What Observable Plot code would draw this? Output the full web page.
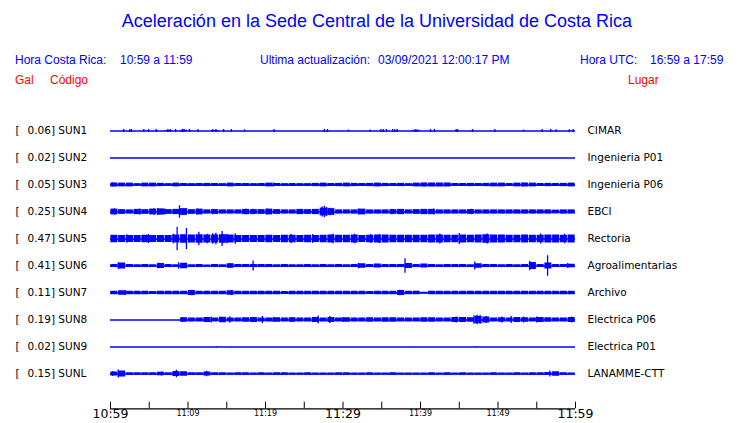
<!DOCTYPE html>
<html>
<head>
<meta charset="utf-8">
<script src="https://cdn.jsdelivr.net/npm/d3@7"></script>
<script src="https://cdn.jsdelivr.net/npm/@observablehq/plot@0.6"></script>
<style>
  html, body { margin: 0; padding: 0; background: #fff; }
  #wrap { width: 740px; height: 423px; position: relative; overflow: hidden; }
  #head { position: relative; width: 740px; height: 100px; font-family: "Liberation Sans", Arial, sans-serif; }
  #head div { position: absolute; white-space: pre; }
  .blue { color: #0000ff; }
  .red { color: #ff0000; }
  .h { font-size: 12px; line-height: 14px; }
  svg { display: block; }
</style>
</head>
<body>
<div id="wrap">
  <div id="head"></div>
  <div id="chart"></div>
  <div id="axis"></div>
</div>
<script>
// ---------- text ----------
const titleText = "Aceleración en la Sede Central de la Universidad de Costa Rica";
const headerLeft = ["Hora Costa Rica:", "10:59 a 11:59"];
const headerMid = ["Ultima actualización:", "03/09/2021 12:00:17 PM"];
const headerRight = ["Hora UTC:", "16:59 a 17:59"];
const colHeads = ["Gal", "Código", "Lugar"];

// ---------- stations ----------
const stations = ["SUN1", "SUN2", "SUN3", "SUN4", "SUN5", "SUN6", "SUN7", "SUN8", "SUN9", "SUNL"];
const places = ["CIMAR", "Ingenieria P01", "Ingenieria P06", "EBCI", "Rectoria", "Agroalimentarias", "Archivo", "Electrica P06", "Electrica P01", "LANAMME-CTT"];
const peakGal = [0.06, 0.02, 0.05, 0.25, 0.47, 0.41, 0.11, 0.19, 0.02, 0.15];

// ---------- time axis (minutes after 10:59) ----------
const tickMinutes = [0, 5, 10, 15, 20, 25, 30, 35, 40, 45, 50, 55, 60];
const bigLabelMinutes = [0, 30, 60];
const bigLabels = ["10:59", "11:29", "11:59"];
const smallLabelMinutes = [10, 20, 40, 50];
const smallLabels = ["11:09", "11:19", "11:39", "11:49"];

// ---------- per-minute envelope (half amplitude, Gal) ----------
const bandSUN1 = [0,0,0,0,0,0,0,0.02,0,0.03, 0,0,0,0.02,0,0,0,0,0,0, 0,0,0,0,0,0,0,0,0,0, 0,0,0,0,0,0,0,0,0,0.03, 0,0,0,0,0,0,0,0,0,0, 0,0,0,0,0,0,0,0,0,0];
const bandSUN2 = [0,0,0,0,0,0,0,0,0,0, 0,0,0,0,0,0,0,0,0,0, 0,0,0,0,0,0,0,0,0,0, 0,0,0,0,0,0,0,0,0,0, 0,0,0,0,0,0,0,0,0,0, 0,0,0,0,0,0,0,0,0,0];
const bandSUN3 = [0.08,0.075,0.075,0.055,0.075,0.075,0.065,0.055,0.075,0.06, 0.055,0.06,0.065,0.06,0.055,0.075,0.06,0.06,0.055,0.06, 0.075,0.06,0.055,0.06,0.055,0.055,0.065,0.075,0.06,0.065, 0.075,0.065,0.06,0.065,0.075,0.065,0.06,0.065,0.055,0.075, 0.08,0.08,0.08,0.08,0.06,0.06,0.065,0.06,0.065,0.075, 0.075,0.06,0.075,0.08,0.075,0.06,0.065,0.06,0.065,0.075];
const bandSUN4 = [0.115,0.095,0.085,0.105,0.095,0.115,0.125,0.095,0.105,0.135, 0.095,0.115,0.085,0.095,0.085,0.085,0.085,0.105,0.095,0.095, 0.115,0.095,0.085,0.085,0.105,0.095,0.105,0.155,0.135,0.085, 0.085,0.085,0.115,0.085,0.085,0.085,0.095,0.105,0.085,0.095, 0.105,0.105,0.085,0.085,0.085,0.085,0.095,0.085,0.085,0.085, 0.085,0.085,0.085,0.085,0.085,0.085,0.085,0.075,0.085,0.085];
const bandSUN5 = [0.15,0.14,0.14,0.14,0.15,0.14,0.14,0.14,0.16,0.17, 0.16,0.17,0.16,0.16,0.17,0.16,0.14,0.14,0.14,0.14, 0.15,0.14,0.15,0.15,0.14,0.15,0.14,0.15,0.16,0.15, 0.15,0.16,0.14,0.15,0.16,0.16,0.15,0.15,0.15,0.15, 0.15,0.16,0.16,0.15,0.15,0.16,0.15,0.16,0.17,0.16, 0.16,0.15,0.15,0.16,0.15,0.15,0.16,0.16,0.15,0.16];
const bandSUN6 = [0.06,0.12,0.06,0.05,0.06,0.05,0.10,0.06,0.05,0.11, 0.05,0.06,0.04,0.06,0.05,0.09,0.06,0.06,0.06,0.06, 0.06,0.05,0.06,0.05,0.05,0.06,0.05,0.06,0.05,0.06, 0.05,0.06,0.09,0.06,0.08,0.06,0.06,0.06,0.10,0.06, 0.08,0.06,0.05,0.06,0.06,0.06,0.05,0.09,0.06,0.06, 0.05,0.06,0.05,0.06,0.14,0.06,0.12,0.06,0.06,0.07];
const bandSUN7 = [0.07,0.09,0.07,0.07,0.07,0.06,0.07,0.07,0.07,0.07, 0.10,0.07,0.07,0.07,0.07,0.09,0.07,0.07,0.07,0.07, 0.07,0.07,0.06,0.07,0.07,0.07,0.07,0.07,0.07,0.07, 0.07,0.07,0.07,0.06,0.07,0.07,0.07,0.10,0.07,0.07, 0.03,0.07,0.07,0.07,0.07,0.07,0.07,0.07,0.07,0.07, 0.07,0.07,0.07,0.07,0.07,0.07,0.07,0.07,0.07,0.07];
const bandSUN8 = [0,0,0,0,0,0,0,0,0,0.09, 0.08,0.08,0.10,0.08,0.11,0.08,0.08,0.09,0.10,0.08, 0.08,0.09,0.08,0.09,0.08,0.08,0.10,0.08,0.10,0.08, 0.09,0.08,0.08,0.09,0.08,0.09,0.09,0.08,0.08,0.08, 0.09,0.09,0.08,0.08,0.10,0.10,0.09,0.15,0.12,0.08, 0.09,0.08,0.10,0.09,0.08,0.10,0.09,0.08,0.08,0.10];
const bandSUN9 = [0,0,0,0,0,0,0,0,0,0, 0,0,0,0,0,0,0,0,0,0, 0,0,0,0,0,0,0,0,0,0, 0,0,0,0,0,0,0,0,0,0, 0,0,0,0,0,0,0,0,0,0, 0,0,0,0,0,0,0,0,0,0];
const bandSUNL = [0.08,0.12,0.05,0.05,0.05,0.05,0.07,0.05,0.10,0.09, 0.05,0.05,0.08,0.05,0.05,0.04,0.05,0.05,0.04,0.05, 0.04,0.05,0.05,0.04,0.04,0.05,0.04,0.04,0.04,0.05, 0.05,0.04,0.04,0.05,0.04,0.04,0.05,0.04,0.04,0.04, 0.04,0.05,0.04,0.05,0.04,0.05,0.04,0.04,0.04,0.05, 0.04,0.04,0.05,0.04,0.05,0.05,0.06,0.09,0.05,0.04];

// ---------- individual peaks [minute, half amplitude in Gal] ----------
const peaksSUN1 = [[1.7,.06],[2.5,.06],[2.7,.06],[4.3,.06],[4.9,.06],[5.9,.06],[7.4,.06],[7.7,.06],[8.4,.06],[9.3,.07],[9.5,.06],[10.2,.06],[11.3,.06],[13.2,.06],[13.6,.06],[14.6,.06],[15.6,.06],[17.3,.05],[21.1,.06],[27.6,.06],[28.0,.06],[30.7,.04],[33.5,.04],[34.9,.06],[35.2,.06],[35.6,.06],[36.4,.06],[36.7,.06],[37.0,.06],[39.4,.06],[41.3,.06],[41.8,.06],[44.6,.06],[44.8,.06],[46.7,.06],[49.6,.06],[53.3,.04],[55.7,.06],[56.8,.06],[57.5,.05],[59.2,.05],[59.7,.06]];
const peaksSUN2 = [];
const peaksSUN3 = [[0.3,.08],[21.0,.08],[40.5,.08],[53.2,.08]];
const peaksSUN4 = [[8.9,.25],[0.5,.13],[3.8,.12],[5.6,.13],[6.1,.14],[7.0,.12],[11.2,.12],[13.2,.11],[17.5,.11],[18.4,.11],[20.2,.12],[27.3,.20],[27.6,.23],[27.9,.18],[28.3,.15],[32.0,.12],[36.3,.11],[41.7,.12],[46.6,.11]];
const peaksSUN5 = [[2.1,.17],[4.9,.18],[8.1,.19],[8.6,.47],[9.8,.42],[11.4,.27],[12.5,.19],[13.2,.21],[13.6,.23],[14.4,.30],[15.0,.19],[16.1,.21],[23.3,.19],[26.1,.18],[28.7,.19],[31.5,.19],[33.6,.18],[34.7,.18],[42.5,.20],[45.0,.22],[48.6,.20],[55.5,.20],[58.6,.19]];
const peaksSUN6 = [[1.0,.13],[6.2,.11],[8.8,.13],[15.4,.10],[18.4,.20],[32.0,.11],[38.0,.29],[47.0,.16],[54.1,.19],[56.4,.41],[59.0,.10]];
const peaksSUN7 = [[1.9,.10],[10.5,.11],[15.6,.10],[37.3,.11]];
const peaksSUN8 = [[9.3,.10],[13.0,.12],[15.4,.13],[18.2,.10],[19.6,.14],[21.0,.10],[23.4,.10],[26.8,.16],[28.3,.14],[30.0,.10],[44.6,.12],[46.9,.17],[47.3,.19],[47.7,.16],[48.5,.14],[50.5,.12],[51.7,.14],[53.3,.12],[55.0,.12],[59.5,.12]];
const peaksSUN9 = [[13.7,.02],[15.6,.01],[39.4,.01],[47.1,.02]];
const peaksSUNL = [[0.3,.10],[1.0,.16],[6.6,.08],[8.5,.15],[12.4,.11],[56.7,.12]];

const bands = [bandSUN1, bandSUN2, bandSUN3, bandSUN4, bandSUN5, bandSUN6, bandSUN7, bandSUN8, bandSUN9, bandSUNL];
const peaks = [peaksSUN1, peaksSUN2, peaksSUN3, peaksSUN4, peaksSUN5, peaksSUN6, peaksSUN7, peaksSUN8, peaksSUN9, peaksSUNL];

// ---------- header (HTML) ----------
const head = document.getElementById("head");
function addText(txt, cls, style) {
  const d = document.createElement("div");
  d.className = cls;
  d.textContent = txt;
  Object.assign(d.style, style);
  head.appendChild(d);
}
addText(titleText, "blue", {left: "7px", width: "740px", textAlign: "center", top: "10px", fontSize: "18px", lineHeight: "22px"});
addText(headerLeft[0], "blue h", {left: "15px", top: "53px"});
addText(headerLeft[1], "blue h", {left: "120px", top: "53px"});
addText(headerMid[0], "blue h", {left: "260px", top: "53px"});
addText(headerMid[1], "blue h", {left: "378px", top: "53px"});
addText(headerRight[0], "blue h", {left: "580px", top: "53px"});
addText(headerRight[1], "blue h", {left: "650px", top: "53px"});
addText(colHeads[0], "red h", {left: "15px", top: "73px"});
addText(colHeads[1], "red h", {left: "50px", top: "73px"});
addText(colHeads[2], "red h", {left: "628px", top: "73px"});

// ---------- data table ----------
const rows = [];
stations.forEach((s, i) => {
  rows.push({station: s, kind: "base"});
  bands[i].forEach((a, m) => { if (a > 0) rows.push({station: s, kind: "band", t: m, a}); });
  peaks[i].forEach(([t, a]) => rows.push({station: s, kind: "peak", t, a}));
  rows.push({station: s, kind: "label", gal: peakGal[i], place: places[i]});
});

const isLabel = d => d.kind === "label";
const BLUE = "#0000ff";
const chart = Plot.plot({
  width: 740,
  height: 300,
  marginLeft: 110,
  marginRight: 165,
  marginTop: 16.5,
  marginBottom: 13.5,
  style: {fontFamily: "DejaVu Sans", fontSize: "10.5px", color: "#000", background: "#fff"},
  facet: {data: rows, y: "station"},
  fy: {domain: stations, padding: 0, axis: null, label: null},
  x: {domain: [0, 60], axis: null},
  y: {domain: [-0.54, 0.54], axis: null},
  marks: [
    Plot.ruleY(rows, {filter: d => d.kind === "base", y: d => 0, stroke: BLUE, strokeWidth: 1.3}),
    Plot.rect(rows, {filter: d => d.kind === "band", x1: d => d.t, x2: d => d.t + 1, y1: d => -d.a, y2: d => d.a, fill: BLUE, insetLeft: 0.35, insetRight: 0.35}),
    Plot.ruleX(rows, {filter: d => d.kind === "peak", x: d => d.t, y1: d => -d.a, y2: d => d.a, stroke: BLUE, strokeWidth: 1.3}),
    Plot.text(rows, {filter: isLabel, text: d => isLabel(d) ? "[" : "", frameAnchor: "left", textAnchor: "start", dx: -95, fill: "#000"}),
    Plot.text(rows, {filter: isLabel, text: d => isLabel(d) ? `${d.gal.toFixed(2)}] ${d.station}` : "", frameAnchor: "left", textAnchor: "start", dx: -83, fill: "#000"}),
    Plot.text(rows, {filter: isLabel, text: d => isLabel(d) ? d.place : "", frameAnchor: "right", textAnchor: "start", dx: 12, fill: "#000"})
  ]
});
document.getElementById("chart").appendChild(chart);

// ---------- time axis ----------
const axis = Plot.plot({
  width: 740,
  height: 23,
  marginLeft: 110,
  marginRight: 165,
  marginTop: 1.7,
  marginBottom: 14.7,
  style: {fontFamily: "DejaVu Sans", color: "#000", background: "#fff", overflow: "visible"},
  x: {domain: [0, 60], axis: null},
  y: {domain: [0, 1], axis: null},
  marks: [
    Plot.ruleX(tickMinutes, {x: d => d, y1: 0, y2: 1, stroke: "#000", strokeWidth: 1}),
    Plot.ruleY([0], {stroke: "#000", strokeWidth: 1.2}),
    Plot.text(bigLabelMinutes, {x: d => d, text: (d, i) => bigLabels[i], frameAnchor: "bottom", dy: 9.5, fontSize: 12.5, fill: "#000"}),
    Plot.text(smallLabelMinutes, {x: d => d, text: (d, i) => smallLabels[i], frameAnchor: "bottom", dy: 7, fontSize: 8, fill: "#000"})
  ]
});
document.getElementById("axis").appendChild(axis);
</script>
</body>
</html>
